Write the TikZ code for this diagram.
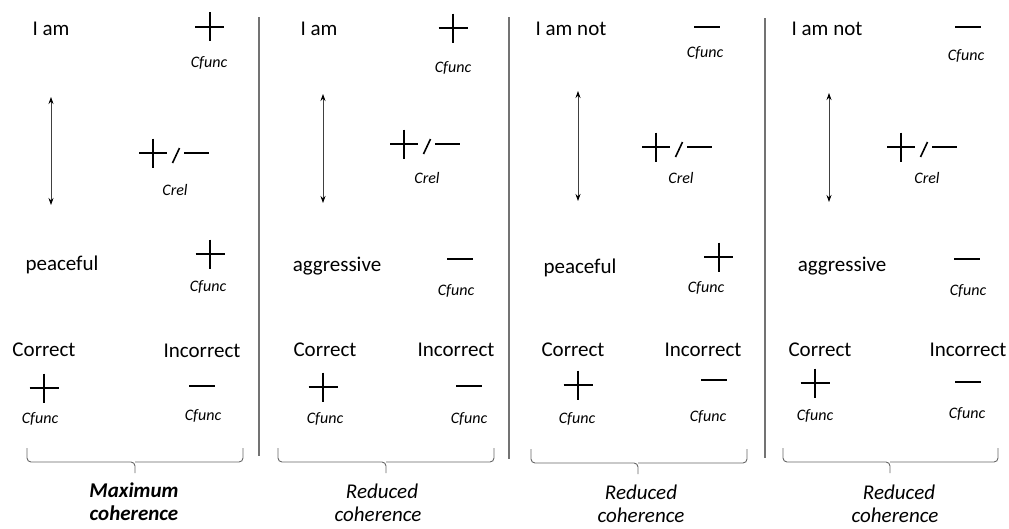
\documentclass[tikz,border=0pt]{standalone}
\usepackage{fontspec}
\setmainfont{Carlito}
\usetikzlibrary{arrows.meta}
\tikzset{
  txt/.style={font=\fontsize{21}{25}\selectfont, anchor=base, inner sep=0pt},
  lbl/.style={font=\fontsize{16}{19}\selectfont\itshape, anchor=base, inner sep=0pt},
  captxt/.style={font=\fontsize{21}{25}\selectfont\itshape, anchor=base, inner sep=0pt},
  captxtb/.style={font=\fontsize{21}{25}\selectfont\bfseries\itshape, anchor=base, inner sep=0pt},
  sign/.style={line width=2pt, black},
  slashline/.style={line width=1.6pt, black},
  sepline/.style={line width=1.2pt, draw=black!55},
  bracel/.style={line width=0.9pt, draw=black!60, rounded corners=4pt},
  dblarrow/.style={line width=0.8pt, draw=black!75, {Stealth[length=7pt,width=5pt,black]}-{Stealth[length=7pt,width=5pt,black]}},
  plusmark/.pic={\draw[sign] (-14.5,0)--(14.5,0) (0,-14.5)--(0,14.5);},
  minusmark/.pic={\draw[sign] (-13,0)--(13,0);},
  pmmark/.pic={\draw[sign] (-14,0)--(14,0) (0,-14.5)--(0,14.5);
               \draw[slashline] (19.5,10)--(26.5,-5);
               \draw[sign] (31,0)--(56,0);}
}
\begin{document}
\begin{tikzpicture}[x=1pt,y=-1pt]
\useasboundingbox (0,0) rectangle (1009,528);

% separators
\coordinate (s1t) at (259,17); \coordinate (s1b) at (259,456);
\coordinate (s2t) at (509,17); \coordinate (s2b) at (509,459);
\coordinate (s3t) at (765,18); \coordinate (s3b) at (765,458);
\draw[sepline] (s1t) -- (s1b);
\draw[sepline] (s2t) -- (s2b);
\draw[sepline] (s3t) -- (s3b);

% ---------- Panel 1 ----------
\node[txt] (p1iam) at (51,35) {I am};
\pic at (209.5,26.5) {plusmark};
\node[lbl] (p1cf1) at (209,67) {Cfunc};
\coordinate (p1at) at (51,97); \coordinate (p1ab) at (51,205);
\draw[dblarrow] (p1at) -- (p1ab);
\pic at (153,153) {pmmark};
\node[lbl] (p1crel) at (175,195) {Crel};
\node[txt] (p1adj) at (62,270) {peaceful};
\pic at (210,254) {plusmark};
\node[lbl] (p1cf2) at (208,291) {Cfunc};
\node[txt] (p1cor) at (44,356) {Correct};
\node[txt] (p1inc) at (202,357) {Incorrect};
\pic at (44,388) {plusmark};
\pic at (202,386) {minusmark};
\node[lbl] (p1cf3) at (40,423) {Cfunc};
\node[lbl] (p1cf4) at (203,420) {Cfunc};
\draw[bracel] (27,448) -- (27,462) -- (135,462) -- (135,473);
\draw[bracel] (243,448) -- (243,462) -- (135,462);
\node[captxtb] (p1c1) at (134,497) {Maximum};
\node[captxtb] (p1c2) at (134,520) {coherence};

% ---------- Panel 2 ----------
\node[txt] (p2iam) at (319,35) {I am};
\pic at (453,28) {plusmark};
\node[lbl] (p2cf1) at (453,72) {Cfunc};
\coordinate (p2at) at (323,94); \coordinate (p2ab) at (323,203);
\draw[dblarrow] (p2at) -- (p2ab);
\pic at (404,144) {pmmark};
\node[lbl] (p2crel) at (427,183) {Crel};
\node[txt] (p2adj) at (337,271) {aggressive};
\pic at (460,259) {minusmark};
\node[lbl] (p2cf2) at (456,295) {Cfunc};
\node[txt] (p2cor) at (325,356) {Correct};
\node[txt] (p2inc) at (456,356) {Incorrect};
\pic at (323,387) {plusmark};
\pic at (469,386) {minusmark};
\node[lbl] (p2cf3) at (325,423) {Cfunc};
\node[lbl] (p2cf4) at (469,423) {Cfunc};
\draw[bracel] (278,448) -- (278,462) -- (386,462) -- (386,473);
\draw[bracel] (494,448) -- (494,462) -- (386,462);
\node[captxt] (p2c1) at (382,498) {Reduced};
\node[captxt] (p2c2) at (378,521) {coherence};

% ---------- Panel 3 ----------
\node[txt] (p3iam) at (571,35) {I am not};
\pic at (707,27) {minusmark};
\node[lbl] (p3cf1) at (705,57) {Cfunc};
\coordinate (p3at) at (578,91); \coordinate (p3ab) at (578,201);
\draw[dblarrow] (p3at) -- (p3ab);
\pic at (656,147) {pmmark};
\node[lbl] (p3crel) at (681,183) {Crel};
\node[txt] (p3adj) at (580,273) {peaceful};
\pic at (718.5,257) {plusmark};
\node[lbl] (p3cf2) at (706,292) {Cfunc};
\node[txt] (p3cor) at (573,356) {Correct};
\node[txt] (p3inc) at (703,356) {Incorrect};
\pic at (578,385) {plusmark};
\pic at (714,380) {minusmark};
\node[lbl] (p3cf3) at (577,423) {Cfunc};
\node[lbl] (p3cf4) at (708,421) {Cfunc};
\draw[bracel] (531,449) -- (531,463) -- (638,463) -- (638,474);
\draw[bracel] (747,449) -- (747,463) -- (638,463);
\node[captxt] (p3c1) at (641,499) {Reduced};
\node[captxt] (p3c2) at (641,522) {coherence};

% ---------- Panel 4 ----------
\node[txt] (p4iam) at (827,35) {I am not};
\pic at (968,27) {minusmark};
\node[lbl] (p4cf1) at (966,60) {Cfunc};
\coordinate (p4at) at (829,93); \coordinate (p4ab) at (829,202);
\draw[dblarrow] (p4at) -- (p4ab);
\pic at (901,147) {pmmark};
\node[lbl] (p4crel) at (927,183) {Crel};
\node[txt] (p4adj) at (842,271) {aggressive};
\pic at (967,259) {minusmark};
\node[lbl] (p4cf2) at (968,295) {Cfunc};
\node[txt] (p4cor) at (820,356) {Correct};
\node[txt] (p4inc) at (968,356) {Incorrect};
\pic at (815,383) {plusmark};
\pic at (968,382) {minusmark};
\node[lbl] (p4cf3) at (815,420) {Cfunc};
\node[lbl] (p4cf4) at (967,418) {Cfunc};
\draw[bracel] (783,448) -- (783,462) -- (890,462) -- (890,473);
\draw[bracel] (998,448) -- (998,462) -- (890,462);
\node[captxt] (p4c1) at (899,499) {Reduced};
\node[captxt] (p4c2) at (895,522) {coherence};
\end{tikzpicture}
\end{document}
